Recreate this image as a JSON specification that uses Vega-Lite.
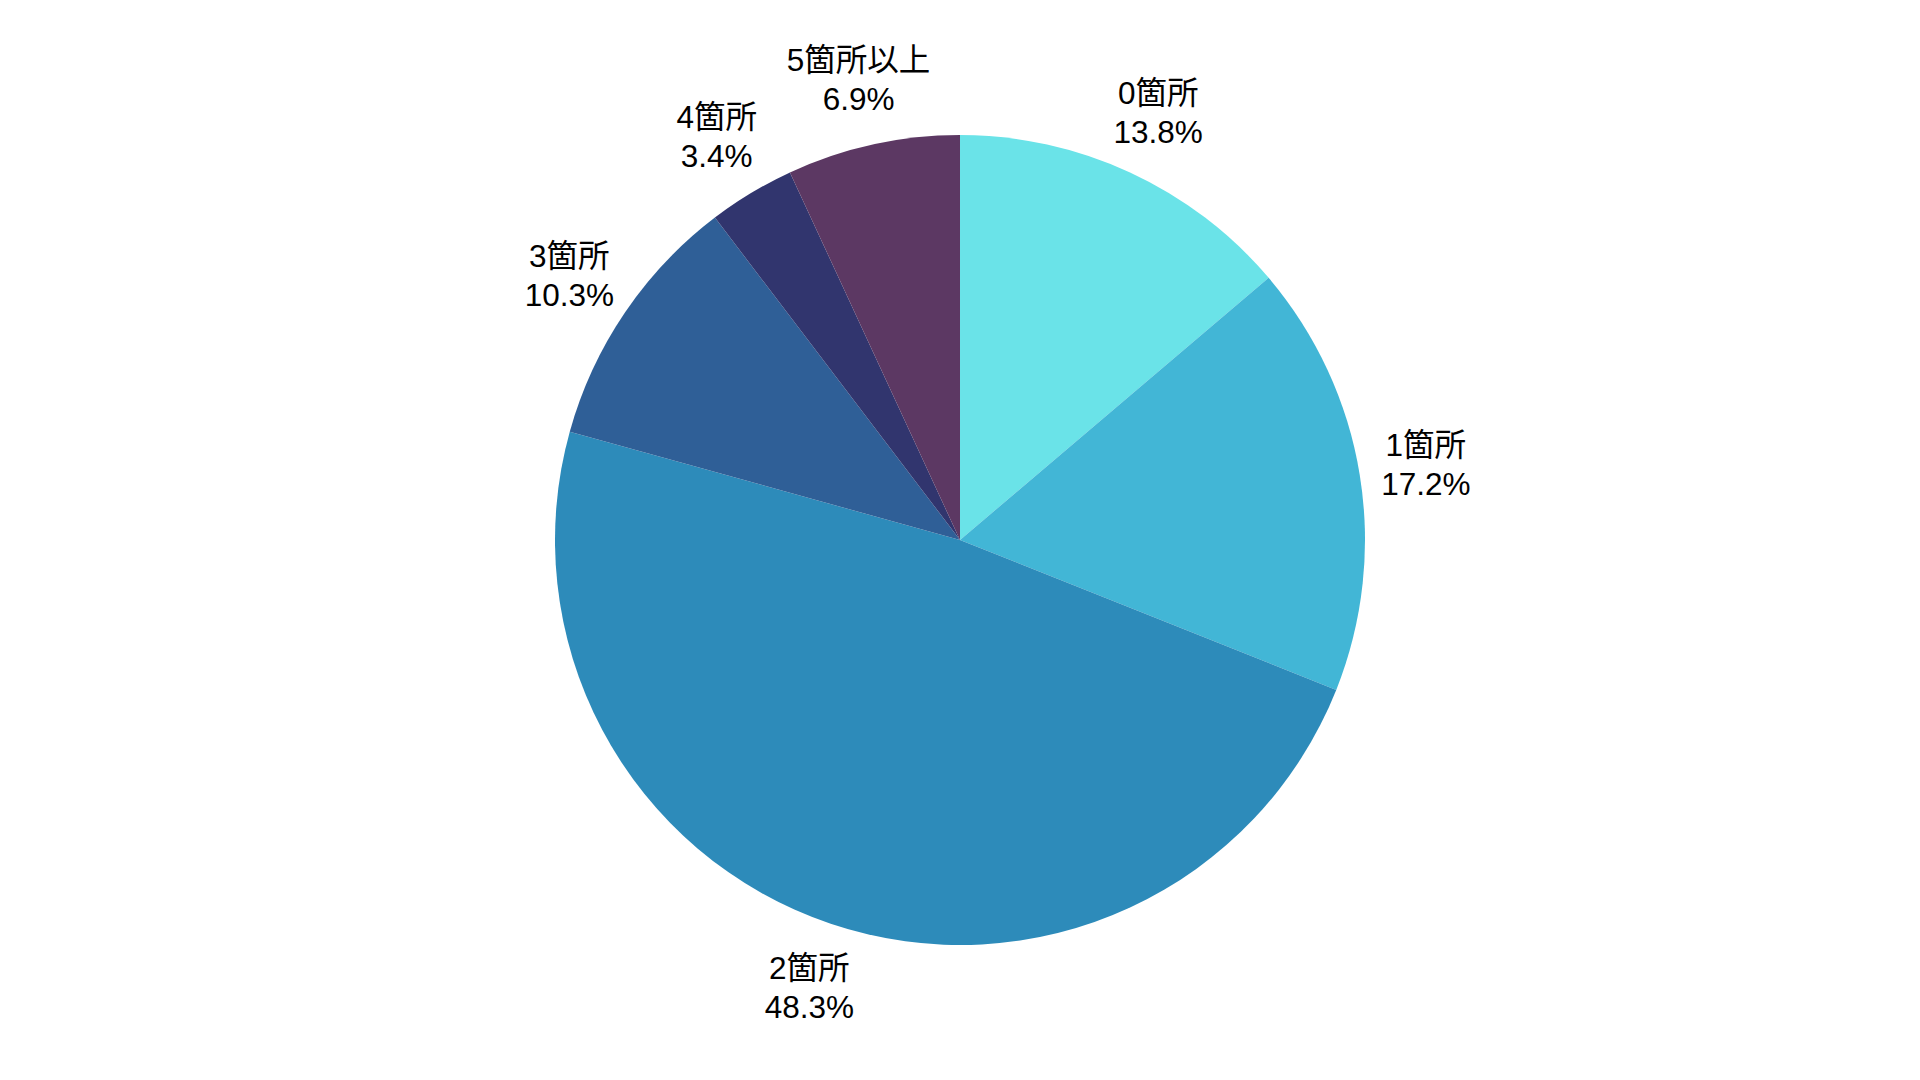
{
  "$schema": "https://vega.github.io/schema/vega-lite/v6.json",
  "width": 1920,
  "height": 1080,
  "autosize": {"type": "fit", "contains": "padding"},
  "padding": 0,
  "background": "#ffffff",
  "view": {"stroke": null},
  "data": {
    "values": [
      {"category": "0箇所", "count": 4, "order": 0, "label": "0箇所|13.8%"},
      {"category": "1箇所", "count": 5, "order": 1, "label": "1箇所|17.2%"},
      {"category": "2箇所", "count": 14, "order": 2, "label": "2箇所|48.3%"},
      {"category": "3箇所", "count": 3, "order": 3, "label": "3箇所|10.3%"},
      {"category": "4箇所", "count": 1, "order": 4, "label": "4箇所|3.4%"},
      {"category": "5箇所以上", "count": 2, "order": 5, "label": "5箇所以上|6.9%"}
    ]
  },
  "encoding": {
    "theta": {"field": "count", "type": "quantitative", "stack": true},
    "order": {"field": "order", "type": "quantitative"},
    "color": {
      "field": "category",
      "type": "nominal",
      "sort": ["0箇所", "1箇所", "2箇所", "3箇所", "4箇所", "5箇所以上"],
      "scale": {
        "domain": ["0箇所", "1箇所", "2箇所", "3箇所", "4箇所", "5箇所以上"],
        "range": ["#6ae3e8", "#42b6d6", "#2d8bba", "#2f5f97", "#31356e", "#5c3863"]
      },
      "legend": null
    }
  },
  "layer": [
    {"mark": {"type": "arc", "outerRadius": 405}},
    {
      "mark": {
        "type": "text",
        "radius": 472,
        "dy": -17,
        "font": "Liberation Sans, Noto Sans CJK JP",
        "fontSize": 31.5,
        "lineHeight": 39,
        "lineBreak": "|",
        "align": "center",
        "baseline": "middle",
        "color": "#000000"
      },
      "encoding": {
        "text": {"field": "label", "type": "nominal"},
        "color": {"value": "#000000"}
      }
    }
  ]
}
